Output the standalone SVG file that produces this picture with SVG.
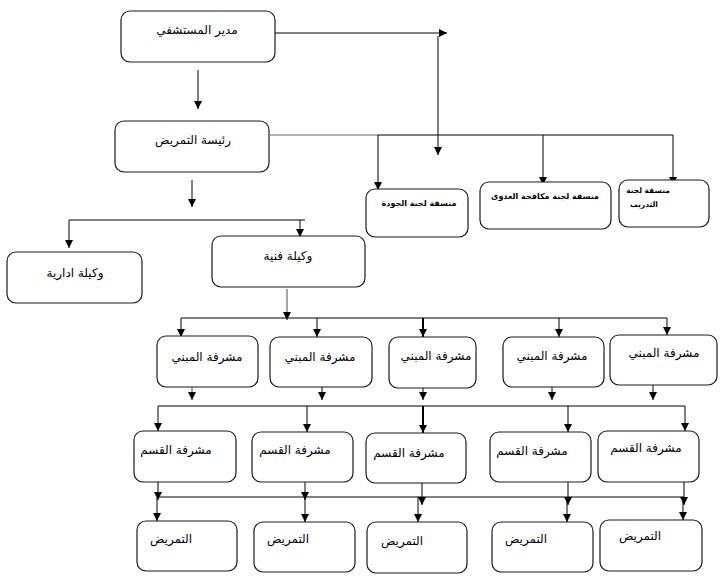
<svg xmlns="http://www.w3.org/2000/svg" width="720" height="585" viewBox="0 0 720 585">
<style>
.box{fill:#fff;stroke:#1a1a1a;stroke-width:1.2}
.t{font-family:"DejaVu Sans","Liberation Sans",sans-serif;font-size:12px;fill:#000;text-anchor:middle}
.tb{font-family:"DejaVu Sans","Liberation Sans",sans-serif;font-size:8px;font-weight:bold;fill:#000;text-anchor:middle}
.ts{font-family:"DejaVu Sans","Liberation Sans",sans-serif;font-size:7.5px;font-weight:bold;fill:#000;text-anchor:middle}
.c{fill:none;stroke:#000;stroke-width:1}
.g{fill:none;stroke:#666;stroke-width:1.2}
.k{fill:none;stroke:#000;stroke-width:2}
</style>
<defs>
<marker id="a" markerUnits="userSpaceOnUse" markerWidth="9" markerHeight="9" refX="8" refY="4" orient="auto">
<path d="M0,0 L8,4 L0,8 z" fill="#000"/>
</marker>
</defs>
<rect width="720" height="585" fill="#fff"/>
<g id="connectors">
<path class="c" d="M275,33 H447" marker-end="url(#a)"/>
<path class="c" d="M438,36 V155" marker-end="url(#a)"/>
<path class="c" d="M198,70 V109" marker-end="url(#a)"/>
<path class="g" d="M270,135 H378"/>
<path class="c" d="M378,135 H673"/>
<path class="c" d="M378,135 V190" marker-end="url(#a)"/>
<path class="c" d="M543,135 V185" marker-end="url(#a)"/>
<path class="c" d="M673,135 V185" marker-end="url(#a)"/>
<path class="c" d="M192,180 V207" marker-end="url(#a)"/>
<path class="c" d="M69,220 H305"/>
<path class="c" d="M69,220 V248" marker-end="url(#a)"/>
<path class="c" d="M300,220 V237" marker-end="url(#a)"/>
<path class="g" d="M287,289 V320" marker-end="url(#a)"/>
<path class="c" d="M181,318 H667"/>
<path class="c" d="M181,318 V337" marker-end="url(#a)"/>
<path class="c" d="M317,318 V337" marker-end="url(#a)"/>
<path class="k" d="M423,318 V337" marker-end="url(#a)"/>
<path class="c" d="M559,318 V337" marker-end="url(#a)"/>
<path class="c" d="M667,318 V335" marker-end="url(#a)"/>
<path class="g" d="M192,378 V400" marker-end="url(#a)"/>
<path class="c" d="M322,378 V400" marker-end="url(#a)"/>
<path class="c" d="M423,378 V400" marker-end="url(#a)"/>
<path class="c" d="M552,384 V400" marker-end="url(#a)"/>
<path class="c" d="M653,378 V400" marker-end="url(#a)"/>
<path class="c" d="M158,406 H685"/>
<path class="c" d="M158,406 V431" marker-end="url(#a)"/>
<path class="c" d="M307,406 V432" marker-end="url(#a)"/>
<path class="k" d="M423,406 V433" marker-end="url(#a)"/>
<path class="c" d="M568,406 V432" marker-end="url(#a)"/>
<path class="c" d="M685,406 V431" marker-end="url(#a)"/>
<path class="c" d="M158,474 V500" marker-end="url(#a)"/>
<path class="c" d="M305,474 V500" marker-end="url(#a)"/>
<path class="c" d="M422,474 V505" marker-end="url(#a)"/>
<path class="c" d="M568,472 V505" marker-end="url(#a)"/>
<path class="c" d="M684,472 V505" marker-end="url(#a)"/>
<path class="c" d="M158,497 H684"/>
<path class="c" d="M157,497 V521" marker-end="url(#a)"/>
<path class="c" d="M305,497 V522" marker-end="url(#a)"/>
<path class="c" d="M418,497 V522" marker-end="url(#a)"/>
<path class="c" d="M567,497 V522" marker-end="url(#a)"/>
<path class="c" d="M683,497 V520" marker-end="url(#a)"/>
</g>
<g id="director"><rect class="box" x="121" y="11" width="154" height="51" rx="9"/><text class="t" x="197" y="34">مدير المستشفي</text></g>
<g id="nursing-head"><rect class="box" x="115" y="121" width="154" height="51" rx="9"/><text class="t" x="193" y="144">رئيسة التمريض</text></g>
<g id="quality"><rect class="box" x="366" y="189" width="102" height="48" rx="9"/><text class="tb" x="419" y="206">منسقة لجنة الجودة</text></g>
<g id="infection"><rect class="box" x="480" y="182" width="131" height="47" rx="9"/><text class="tb" x="545" y="199">منسقة لجنة مكافحة العدوى</text></g>
<g id="training"><rect class="box" x="619" y="180" width="90" height="47" rx="9"/><text class="ts" x="648" y="193">منسقة لجنة</text><text class="ts" x="644" y="207">التدريب</text></g>
<g id="admin-deputy"><rect class="box" x="7" y="252" width="135" height="51" rx="9"/><text class="t" x="75" y="277">وكيلة ادارية</text></g>
<g id="tech-deputy"><rect class="box" x="212" y="236" width="153" height="51" rx="9"/><text class="t" x="288" y="260">وكيلة فنية</text></g>
<g id="bldg1"><rect class="box" x="157" y="336" width="101" height="51" rx="9"/><text class="t" x="207" y="361">مشرفة المبني</text></g>
<g id="bldg2"><rect class="box" x="270" y="337" width="102" height="50" rx="9"/><text class="t" x="320" y="361">مشرفة المبني</text></g>
<g id="bldg3"><rect class="box" x="389" y="337" width="87" height="51" rx="9"/><text class="t" x="436" y="360">مشرفة المبني</text></g>
<g id="bldg4"><rect class="box" x="503" y="337" width="101" height="50" rx="9"/><text class="t" x="552" y="360">مشرفة المبني</text></g>
<g id="bldg5"><rect class="box" x="610" y="335" width="107" height="50" rx="9"/><text class="t" x="664" y="357">مشرفة المبني</text></g>
<g id="dept1"><rect class="box" x="134" y="431" width="102" height="51" rx="9"/><text class="t" x="176" y="454">مشرفة القسم</text></g>
<g id="dept2"><rect class="box" x="252" y="432" width="101" height="50" rx="9"/><text class="t" x="295" y="454">مشرفة القسم</text></g>
<g id="dept3"><rect class="box" x="366" y="433" width="100" height="50" rx="9"/><text class="t" x="409" y="457">مشرفة القسم</text></g>
<g id="dept4"><rect class="box" x="490" y="432" width="101" height="50" rx="9"/><text class="t" x="532" y="455">مشرفة القسم</text></g>
<g id="dept5"><rect class="box" x="598" y="431" width="101" height="51" rx="9"/><text class="t" x="646" y="452">مشرفة القسم</text></g>
<g id="nurse1"><rect class="box" x="137" y="521" width="100" height="50" rx="9"/><text class="t" x="171" y="543">التمريض</text></g>
<g id="nurse2"><rect class="box" x="254" y="522" width="101" height="50" rx="9"/><text class="t" x="288" y="543">التمريض</text></g>
<g id="nurse3"><rect class="box" x="367" y="522" width="100" height="51" rx="9"/><text class="t" x="402" y="545">التمريض</text></g>
<g id="nurse4"><rect class="box" x="492" y="522" width="101" height="50" rx="9"/><text class="t" x="526" y="543">التمريض</text></g>
<g id="nurse5"><rect class="box" x="600" y="520" width="102" height="51" rx="9"/><text class="t" x="640" y="540">التمريض</text></g>
</svg>
